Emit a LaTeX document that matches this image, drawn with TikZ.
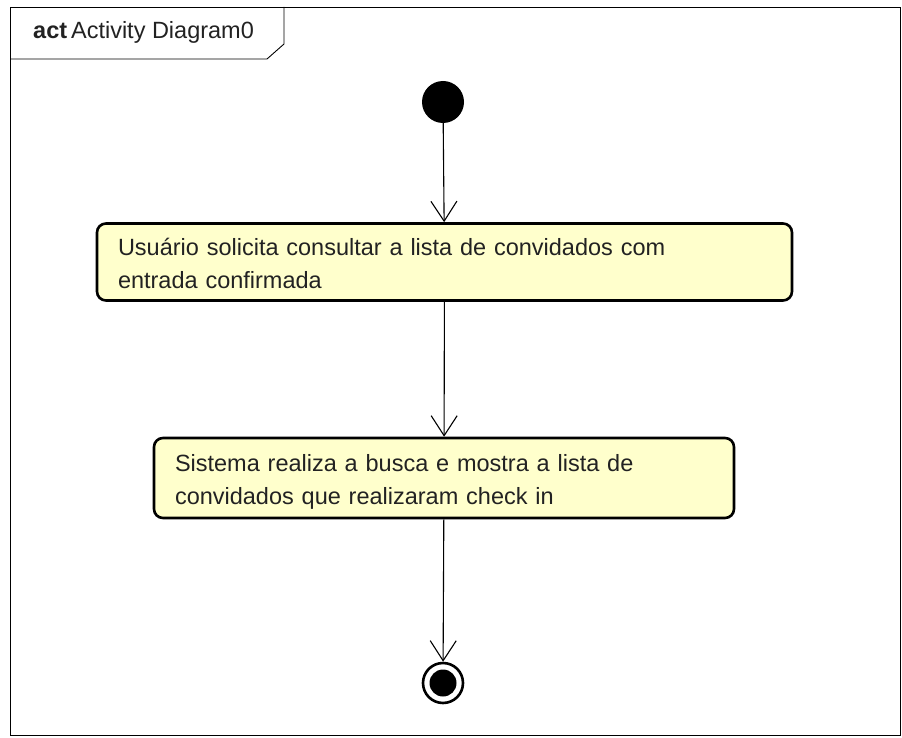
\documentclass[tikz,border=0pt]{standalone}
\usepackage{fontspec}
\setmainfont{Liberation Sans}
\usetikzlibrary{arrows.meta}
\definecolor{actfill}{HTML}{FFFFCC}
\definecolor{txt}{HTML}{222222}
\tikzset{
  act/.style={draw=black, line width=2.6pt, fill=actfill, rounded corners=9pt, minimum height=77pt, inner xsep=21pt, inner ysep=0pt, text width=#1, align=left, text=txt, font=\fontsize{23.5}{33}\selectfont},
  flow/.style={draw=black, line width=1.1pt, -{Straight Barb[length=20pt,width=26pt,line width=1.1pt]}},
  frame/.style={draw=black, line width=0.9pt}
}
\begin{document}
\begin{tikzpicture}[x=1pt,y=-1pt]
\useasboundingbox (0,0) rectangle (902,738);
\fill[white] (0,0) rectangle (902,738);
% frame
\draw[frame] (10,7) rectangle (900,735);
\draw[frame] (10,59) -- (267,59) -- (284,44) -- (284,7);
\node[anchor=west, inner sep=0pt, text=txt, font=\fontsize{23.5}{26}\selectfont] (title) at (33,32) {\textbf{act}\,Activity Diagram0};
% nodes
\node[circle, fill=black, minimum size=42pt, inner sep=0pt] (start) at (443,102) {};
\node[act=653pt] (a1) at (444.5,262) {\rule{0pt}{20pt}Usuário solicita consultar a lista de convidados com\\entrada confirmada};
\node[act=538pt, minimum height=80pt] (a2) at (444,478) {\rule{0pt}{24pt}Sistema realiza a busca e mostra a lista de\\convidados que realizaram check in};
\node[circle, draw=black, line width=2.6pt, minimum size=40pt, inner sep=0pt] (end) at (443,683) {};
\node[circle, fill=black, minimum size=27pt, inner sep=0pt] (endin) at (443,683) {};
% flows
\draw[flow] (start) -- (a1);
\draw[flow] (a1) -- (a2);
\draw[flow] (a2) -- (end);
\end{tikzpicture}
\end{document}
